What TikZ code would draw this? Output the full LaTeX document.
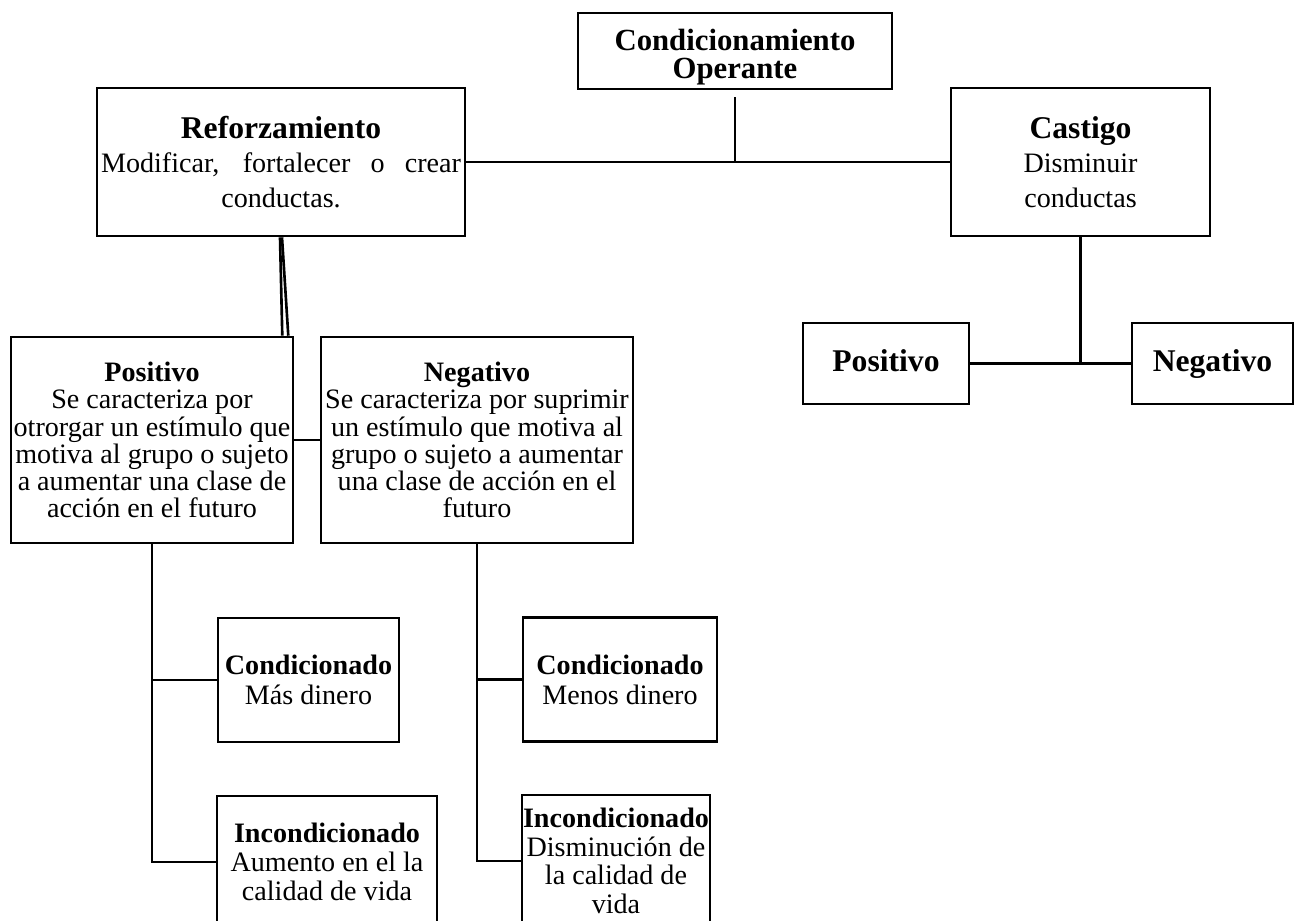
\documentclass[tikz,border=0pt]{standalone}
\usepackage{fontspec}
\setmainfont{Liberation Serif}
\begin{document}
\begin{tikzpicture}[x=0.02cm,y=-0.02cm,
  box/.style={draw, line width=1.5pt, inner sep=0pt, align=center, font=\fontsize{16}{15.5}\selectfont},
  link/.style={line width=1.5pt}]
\useasboundingbox (0,0) rectangle (1295,920);
% nodes
\node[box, minimum width=6.28cm, minimum height=1.52cm, font=\fontsize{17.5}{16}\selectfont] (co) at (735,51) {\rule{0pt}{19pt}\textbf{Condicionamiento}\\\textbf{Operante}};
\node[box, minimum width=7.36cm, minimum height=2.96cm, font=\fontsize{16}{19.8}\selectfont] (ref) at (281,162) {{\fontsize{18}{19.8}\selectfont\textbf{Reforzamiento}}\\\makebox[7.2cm][s]{Modificar, fortalecer o crear}\\conductas.};
\node[box, minimum width=5.18cm, minimum height=2.96cm, font=\fontsize{16}{19.8}\selectfont] (cas) at (1080.5,162) {{\fontsize{18}{19.8}\selectfont\textbf{Castigo}}\\Disminuir\\conductas};
\node[box, minimum width=3.32cm, minimum height=1.62cm, font=\fontsize{18}{18}\selectfont, text height=12.6pt, text depth=3pt] (cpos) at (886,363.5) {\textbf{Positivo}};
\node[box, minimum width=3.22cm, minimum height=1.62cm, font=\fontsize{18}{18}\selectfont, text height=12.6pt, text depth=3pt] (cneg) at (1212.5,363.5) {\textbf{Negativo}};
\node[box, minimum width=5.64cm, minimum height=4.12cm] (pos) at (152,440) {\textbf{Positivo}\\Se caracteriza por\\otrorgar un estímulo que\\motiva al grupo o sujeto\\a aumentar una clase de\\acción en el futuro};
\node[box, minimum width=6.24cm, minimum height=4.12cm] (neg) at (477,440) {\textbf{Negativo}\\Se caracteriza por suprimir\\un estímulo que motiva al\\grupo o sujeto a aumentar\\una clase de acción en el\\futuro};
\node[box, minimum width=3.62cm, minimum height=2.48cm, font=\fontsize{16}{17}\selectfont] (condl) at (308.5,680) {\textbf{Condicionado}\\Más dinero};
\node[box, minimum width=3.88cm, minimum height=2.48cm, font=\fontsize{16}{17}\selectfont] (condr) at (620,679.5) {\textbf{Condicionado}\\Menos dinero};
\node[box, minimum width=4.4cm, minimum height=2.64cm, font=\fontsize{16}{16.5}\selectfont] (incl) at (327,862) {\textbf{Incondicionado}\\Aumento en el la\\calidad de vida};
\node[box, minimum width=3.76cm, minimum height=2.64cm, font=\fontsize{16}{16.2}\selectfont] (incr) at (616,861) {\textbf{Incondicionado}\\Disminución de\\la calidad de\\vida};
% connectors
\coordinate (j1) at (735,162);
\coordinate (j2) at (1080.5,363.5);
\draw[link, shorten <=0.14cm] (co.south) -- (j1);
\draw[link] (ref.east) -- (cas.west);
\draw[link] ([xshift=-0.02cm]ref.south) -- ([xshift=-0.24cm]pos.north east);
\draw[link] ([xshift=0.02cm]ref.south) -- ([xshift=-0.12cm]pos.north east);
\draw[link] (pos.east) -- (neg.west);
\draw[link] (pos.south) |- (condl.west);
\draw[link] (pos.south) |- (incl.west);
\draw[link] (neg.south) |- (condr.west);
\draw[link] (neg.south) |- (incr.west);
\draw[link] (cas.south) -- (j2);
\draw[link] (cpos.east) -- (cneg.west);
\end{tikzpicture}
\end{document}
